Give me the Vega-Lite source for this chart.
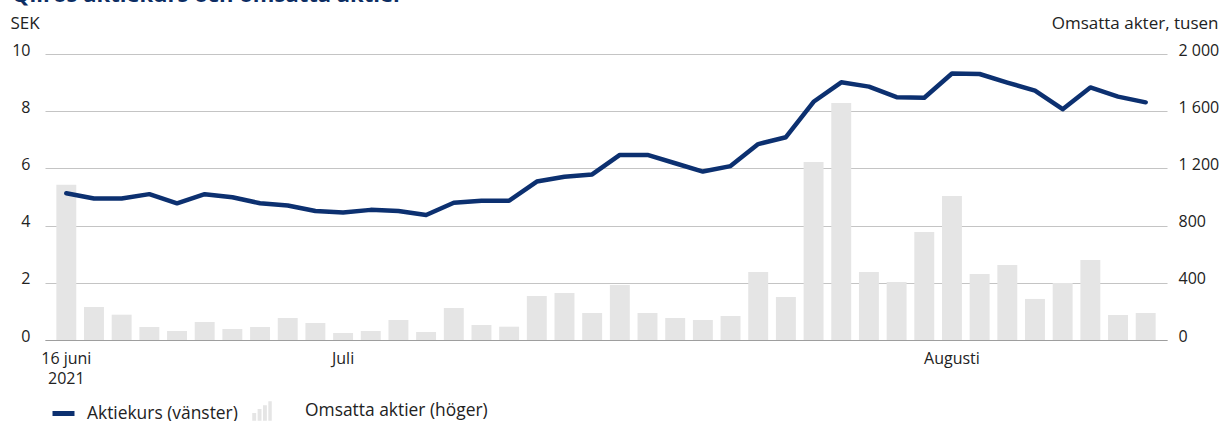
{
  "$schema": "https://vega.github.io/schema/vega-lite/v6.json",
  "autosize": "none",
  "width": 1122,
  "height": 286,
  "padding": {"left": 45, "top": 54, "right": 54, "bottom": 81},
  "background": "white",
  "config": {
    "font": "Open Sans",
    "view": {"stroke": null},
    "axis": {"labelFont": "Open Sans", "labelFontSize": 16, "labelColor": "#222222", "titleFont": "Open Sans", "titleFontSize": 17, "titleFontWeight": "normal", "titleColor": "#222222"},
    "legend": {"labelFont": "Open Sans", "labelFontSize": 17.4, "labelColor": "#222222", "labelLimit": 400}
  },
  "title": {"text": "Qliros aktiekurs och omsatta aktier", "anchor": "start", "frame": "group", "dx": -33, "dy": -3, "fontSize": 22, "fontWeight": "bold", "color": "#0c2d63", "font": "Open Sans"},
  "data": {"values": [
    {"d": "2021-06-16", "kurs": 5.13, "vol": 1086},
    {"d": "2021-06-17", "kurs": 4.95, "vol": 231},
    {"d": "2021-06-18", "kurs": 4.95, "vol": 177},
    {"d": "2021-06-21", "kurs": 5.10, "vol": 91},
    {"d": "2021-06-22", "kurs": 4.78, "vol": 63},
    {"d": "2021-06-23", "kurs": 5.10, "vol": 126},
    {"d": "2021-06-24", "kurs": 4.99, "vol": 77},
    {"d": "2021-06-28", "kurs": 4.78, "vol": 91},
    {"d": "2021-06-29", "kurs": 4.70, "vol": 154},
    {"d": "2021-06-30", "kurs": 4.51, "vol": 119},
    {"d": "2021-07-01", "kurs": 4.46, "vol": 49},
    {"d": "2021-07-02", "kurs": 4.55, "vol": 63},
    {"d": "2021-07-05", "kurs": 4.51, "vol": 140},
    {"d": "2021-07-06", "kurs": 4.37, "vol": 56},
    {"d": "2021-07-07", "kurs": 4.80, "vol": 224},
    {"d": "2021-07-08", "kurs": 4.87, "vol": 105},
    {"d": "2021-07-09", "kurs": 4.87, "vol": 93},
    {"d": "2021-07-12", "kurs": 5.54, "vol": 308},
    {"d": "2021-07-13", "kurs": 5.71, "vol": 329},
    {"d": "2021-07-14", "kurs": 5.79, "vol": 189},
    {"d": "2021-07-15", "kurs": 6.47, "vol": 385},
    {"d": "2021-07-16", "kurs": 6.47, "vol": 189},
    {"d": "2021-07-19", "kurs": 6.18, "vol": 154},
    {"d": "2021-07-20", "kurs": 5.89, "vol": 140},
    {"d": "2021-07-21", "kurs": 6.08, "vol": 168},
    {"d": "2021-07-22", "kurs": 6.85, "vol": 476},
    {"d": "2021-07-23", "kurs": 7.09, "vol": 301},
    {"d": "2021-07-26", "kurs": 8.33, "vol": 1245},
    {"d": "2021-07-27", "kurs": 9.01, "vol": 1657},
    {"d": "2021-07-28", "kurs": 8.86, "vol": 476},
    {"d": "2021-07-29", "kurs": 8.49, "vol": 406},
    {"d": "2021-07-30", "kurs": 8.47, "vol": 755},
    {"d": "2021-08-02", "kurs": 9.32, "vol": 1007},
    {"d": "2021-08-03", "kurs": 9.30, "vol": 462},
    {"d": "2021-08-04", "kurs": 9.00, "vol": 524},
    {"d": "2021-08-05", "kurs": 8.72, "vol": 287},
    {"d": "2021-08-06", "kurs": 8.07, "vol": 399},
    {"d": "2021-08-09", "kurs": 8.83, "vol": 559},
    {"d": "2021-08-10", "kurs": 8.51, "vol": 175},
    {"d": "2021-08-11", "kurs": 8.31, "vol": 189}
  ]},
  "encoding": {
    "x": {
      "field": "d", "type": "ordinal", "sort": null,
      "scale": {"type": "band", "paddingInner": 0.28, "paddingOuter": 0.41},
      "axis": {
        "title": null,
        "values": ["2021-06-16", "2021-07-01", "2021-08-02"],
        "labelExpr": "datum.value == '2021-06-16' ? ['16 juni', '2021'] : datum.value == '2021-07-01' ? 'Juli' : 'Augusti'",
        "labelAngle": 0, "labelAlign": "center", "labelBaseline": "top", "labelPadding": 10, "labelLineHeight": 20,
        "ticks": false, "grid": false,
        "domain": true, "domainColor": "#9e9e9e", "domainWidth": 1.2
      }
    }
  },
  "layer": [
    {
      "mark": {"type": "bar"},
      "encoding": {
        "y": {
          "field": "vol", "type": "quantitative",
          "scale": {"domain": [0, 2000], "nice": false},
          "axis": {
            "orient": "right", "values": [0, 400, 800, 1200, 1600, 2000],
            "labelExpr": "replace(format(datum.value, ','), ',', ' ')",
            "labelAlign": "left", "labelBaseline": "middle", "labelOffset": -4, "labelPadding": 11,
            "ticks": false, "domain": false, "grid": false,
            "title": "Omsatta akter, tusen", "titleAngle": 0, "titleAlign": "right", "titleBaseline": "alphabetic", "titleX": 51, "titleY": -26
          }
        },
        "fill": {
          "datum": "Omsatta aktier (höger)",
          "scale": {"range": ["#e5e5e5"]},
          "legend": {
            "title": null, "orient": "none", "legendX": 207, "legendY": 347,
            "symbolType": "M-1,1V0.2H-0.6V1Z M-0.45,1V-0.2H-0.05V1Z M0.1,1V-0.6H0.5V1Z M0.65,1V-1H1V1Z",
            "symbolSize": 380, "symbolStrokeWidth": 0, "symbolFillColor": "#e5e5e5",
            "labelOffset": 33
          }
        }
      }
    },
    {
      "mark": {"type": "line", "strokeWidth": 4.5, "strokeJoin": "round", "strokeCap": "round"},
      "encoding": {
        "y": {
          "field": "kurs", "type": "quantitative",
          "scale": {"domain": [0, 10], "nice": false},
          "axis": {
            "orient": "left", "values": [0, 2, 4, 6, 8, 10],
            "labelAlign": "right", "labelBaseline": "middle", "labelOffset": -4, "labelPadding": 15,
            "ticks": false, "domain": false,
            "grid": true, "gridColor": "#c4c4c4", "gridWidth": 1.2,
            "title": "SEK", "titleAngle": 0, "titleAlign": "left", "titleBaseline": "alphabetic", "titleX": -35, "titleY": -26
          }
        },
        "stroke": {
          "datum": "Aktiekurs (vänster)",
          "scale": {"range": ["#0c3070"]},
          "legend": {
            "title": null, "orient": "none", "legendX": 5, "legendY": 346,
            "symbolType": "stroke", "symbolSize": 484, "symbolStrokeWidth": 5, "symbolStrokeColor": "#0c3070",
            "labelOffset": 10
          }
        }
      }
    }
  ],
  "resolve": {"scale": {"y": "independent"}}
}
